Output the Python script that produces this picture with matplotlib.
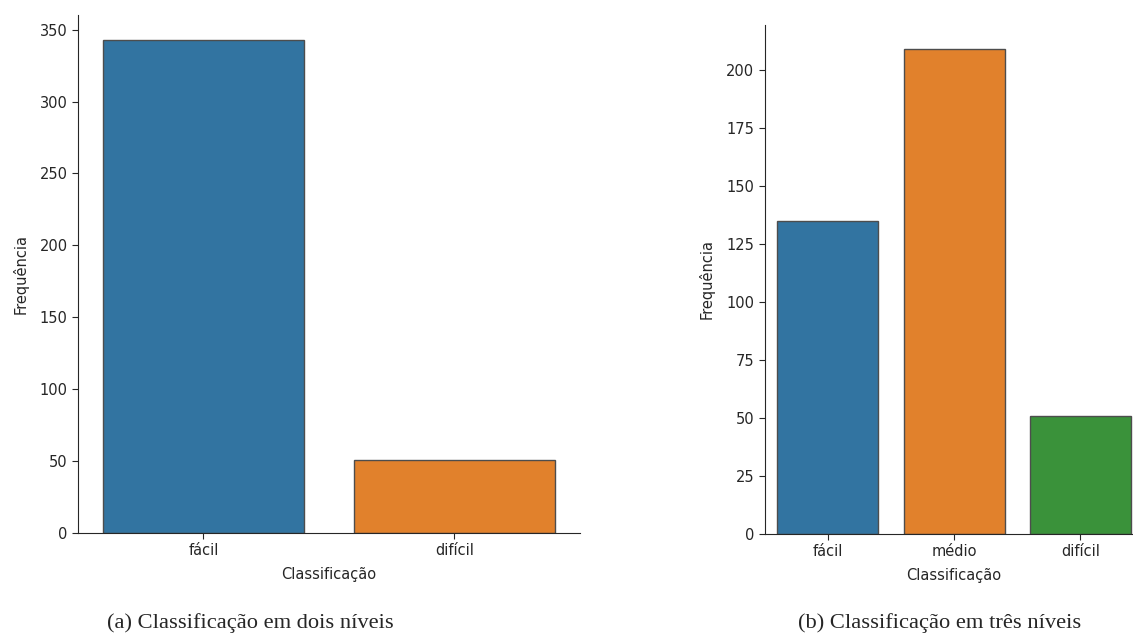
import matplotlib
matplotlib.use("Agg")
import matplotlib.pyplot as plt
import seaborn as sns

# contagens por classe
niveis_2 = ["fácil", "difícil"]
freq_2 = [343, 51]

niveis_3 = ["fácil", "médio", "difícil"]
freq_3 = [135, 209, 51]

sns.set_style("ticks")
plt.rcParams['font.family'] = ['DejaVu Sans']

cores = sns.color_palette("tab10", desat=0.75)

fig = plt.figure(figsize=(11.33, 6.39), dpi=100)
ax1 = fig.add_axes([0.0688, 0.1659, 0.443, 0.8106])
ax2 = fig.add_axes([0.6748, 0.1643, 0.3345, 0.7966])


def countplot(ax, cats, vals, ticks):
    x = list(range(len(cats)))
    ax.bar(x, vals, width=0.8, color=cores[:len(cats)],
           edgecolor="0.3", linewidth=1)
    ax.set_xlim(-0.5, len(cats) - 0.5)
    ax.set_xticks(x)
    ax.set_xticklabels(cats)
    ax.set_yticks(ticks)
    ax.tick_params(labelsize=10.5, colors="#262626", length=4)
    ax.set_xlabel("Classificação", fontsize=10.5, color="#262626",
                  labelpad=6)
    ax.set_ylabel("Frequência", fontsize=10.5, color="#262626",
                  labelpad=8)
    sns.despine(ax=ax)


countplot(ax1, niveis_2, freq_2, range(0, 351, 50))
countplot(ax2, niveis_3, freq_3, range(0, 201, 25))

# legendas das figuras
fig.text(250 / 1133, 1 - 623 / 639, "(a) Classificação em dois níveis",
         family="Liberation Serif", fontsize=16.2, ha="center", va="center")
fig.text(940 / 1133, 1 - 623 / 639, "(b) Classificação em três níveis",
         family="Liberation Serif", fontsize=16.2, ha="center", va="center")

fig.savefig("out.png", dpi=100)
